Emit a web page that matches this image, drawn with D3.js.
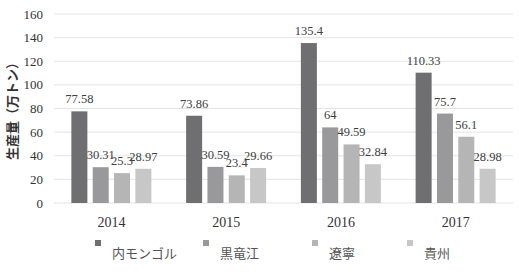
<!DOCTYPE html>
<html>
<head>
<meta charset="utf-8">
<script src="https://cdn.jsdelivr.net/npm/d3@7"></script>
<style>
  body { margin: 0; background: #fff; }
  text { font-family: "Liberation Serif", "Times New Roman", serif; }
</style>
</head>
<body>
<svg width="519" height="277"></svg>
<script>
const years = ["2014", "2015", "2016", "2017"];
const regions = ["内モンゴル", "黒竜江", "遼寧", "貴州"];
const values = [
  [77.58, 30.31, 25.3, 28.97],
  [73.86, 30.59, 23.4, 29.66],
  [135.4, 64, 49.59, 32.84],
  [110.33, 75.7, 56.1, 28.98]
];
const yTicks = [0, 20, 40, 60, 80, 100, 120, 140, 160];
const colors = ["#6f6f71", "#99999b", "#b5b5b5", "#c7c7c7"];

let svg = d3.select("svg"),
  plotLeft = 54, plotRight = 513, plotTop = 14, plotBottom = 203;

let x0 = d3.scaleBand().domain(years).range([plotLeft, plotRight]).paddingInner(0).paddingOuter(0),
  x1 = d3.scaleBand().domain(regions).range([0, 80]).paddingInner(0.25),
  y = d3.scaleLinear().domain([0, 160]).range([plotBottom, plotTop]);

// gridlines
svg.append("g")
  .selectAll("line")
  .data(yTicks)
  .enter()
  .append("line")
  .attr("x1", plotLeft)
  .attr("x2", plotRight)
  .attr("y1", d => y(d))
  .attr("y2", d => y(d))
  .attr("stroke", "#e4e4e4")
  .attr("stroke-width", 1);

// y axis labels
svg.append("g")
  .selectAll("text")
  .data(yTicks)
  .enter()
  .append("text")
  .attr("x", 43)
  .attr("y", d => y(d) + 4.5)
  .attr("text-anchor", "end")
  .attr("font-size", "13px")
  .attr("fill", "#333")
  .text(d => d);

// y axis title
svg.append("text")
  .attr("transform", "translate(17,108) rotate(-90)")
  .attr("text-anchor", "middle")
  .attr("font-size", "13px")
  .attr("font-weight", "bold")
  .style("font-family", "'Noto Sans CJK JP', sans-serif")
  .attr("fill", "#333")
  .text("生産量（万トン）");

let groups = svg.append("g")
  .selectAll("g")
  .data(values)
  .enter()
  .append("g")
  .attr("transform", (d, i) => "translate(" + (x0(years[i]) + x0.bandwidth() / 2 - 40) + ",0)");

groups.selectAll("rect")
  .data(d => d)
  .enter()
  .append("rect")
  .attr("x", (d, i) => x1(regions[i]))
  .attr("y", d => y(d))
  .attr("width", x1.bandwidth())
  .attr("height", d => plotBottom - y(d))
  .attr("fill", (d, i) => colors[i]);

groups.selectAll("text")
  .data(d => d)
  .enter()
  .append("text")
  .attr("x", (d, i) => x1(regions[i]) + x1.bandwidth() / 2)
  .attr("y", d => y(d) - 8)
  .attr("text-anchor", "middle")
  .attr("font-size", "12.5px")
  .attr("fill", "#404040")
  .text(d => d);

// x axis labels
svg.append("g")
  .selectAll("text")
  .data(years)
  .enter()
  .append("text")
  .attr("x", d => x0(d) + x0.bandwidth() / 2)
  .attr("y", 227)
  .attr("text-anchor", "middle")
  .attr("font-size", "14px")
  .attr("fill", "#333")
  .text(d => d);

// legend
const legendX = [95, 203, 312, 407];
let legend = svg.append("g")
  .selectAll("g")
  .data(regions)
  .enter()
  .append("g")
  .attr("transform", (d, i) => "translate(" + legendX[i] + ",0)");

legend.append("rect")
  .attr("x", 0)
  .attr("y", 240)
  .attr("width", 6)
  .attr("height", 6)
  .attr("fill", (d, i) => colors[i]);

legend.append("text")
  .attr("x", 17)
  .attr("y", 258)
  .attr("font-size", "13px")
  .style("font-family", "'Noto Sans CJK JP', sans-serif")
  .attr("fill", "#555")
  .text(d => d);
</script>
</body>
</html>
